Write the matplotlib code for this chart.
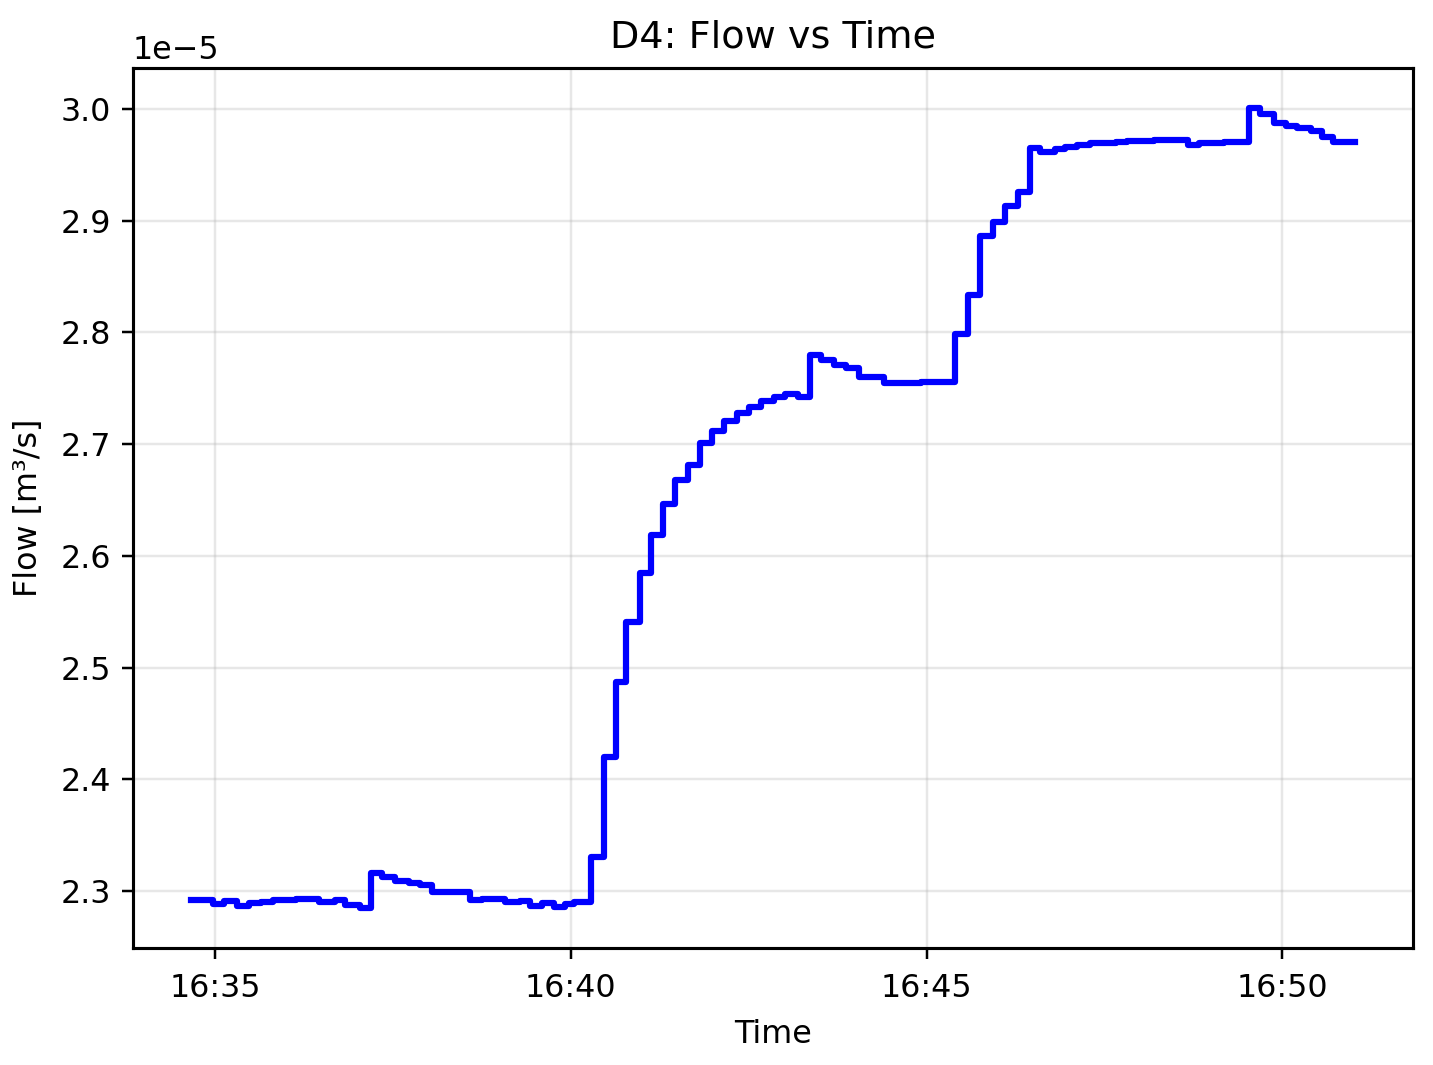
import matplotlib
matplotlib.use("Agg")
import matplotlib.pyplot as plt
import matplotlib.dates as mdates
import pandas as pd
import numpy as np

# step change times (HH:MM:SS) and flow values in units of 1e-5 m^3/s
times = [
    "16:34:40", "16:34:58", "16:35:08", "16:35:19", "16:35:29", "16:35:39",
    "16:35:49", "16:36:08", "16:36:28", "16:36:41", "16:36:50", "16:37:02",
    "16:37:12", "16:37:21", "16:37:32", "16:37:44", "16:37:53", "16:38:03",
    "16:38:35", "16:38:45", "16:39:05", "16:39:17", "16:39:26", "16:39:36",
    "16:39:46", "16:39:55", "16:40:03", "16:40:17", "16:40:28", "16:40:38",
    "16:40:47", "16:40:58", "16:41:08", "16:41:18", "16:41:28", "16:41:39",
    "16:41:49", "16:41:59", "16:42:09", "16:42:20", "16:42:30", "16:42:40",
    "16:42:51", "16:43:01", "16:43:12", "16:43:22", "16:43:31", "16:43:42",
    "16:43:52", "16:44:03", "16:44:24", "16:44:55", "16:45:24", "16:45:35",
    "16:45:45", "16:45:56", "16:46:06", "16:46:17", "16:46:27", "16:46:36",
    "16:46:48", "16:46:57", "16:47:07", "16:47:18", "16:47:40", "16:47:49",
    "16:48:12", "16:48:40", "16:48:50", "16:49:11", "16:49:32", "16:49:41",
    "16:49:53", "16:50:03", "16:50:12", "16:50:24", "16:50:33", "16:50:43",
    "16:51:01",
]
flow = [
    2.2922, 2.2884, 2.2908, 2.2869, 2.2889, 2.2904,
    2.2917, 2.2929, 2.2904, 2.2922, 2.2875, 2.2848,
    2.3161, 2.3122, 2.3092, 2.3071, 2.3054, 2.2994,
    2.2920, 2.2931, 2.2899, 2.2914, 2.2869, 2.2889,
    2.2860, 2.2881, 2.2899, 2.3301, 2.4199, 2.4872,
    2.5404, 2.5845, 2.6188, 2.6464, 2.6679, 2.6813,
    2.7006, 2.7116, 2.7208, 2.7280, 2.7333, 2.7384,
    2.7417, 2.7446, 2.7423, 2.7795, 2.7750, 2.7711,
    2.7681, 2.7602, 2.7545, 2.7552, 2.7988, 2.8337,
    2.8860, 2.8991, 2.9134, 2.9259, 2.9646, 2.9616,
    2.9637, 2.9661, 2.9676, 2.9690, 2.9705, 2.9714,
    2.9723, 2.9679, 2.9694, 2.9705, 3.0006, 2.9958,
    2.9869, 2.9845, 2.9824, 2.9804, 2.9744, 2.9699,
    2.9700,
]
tick_minutes = [35, 40, 45, 50]

t = pd.to_datetime(["2024-01-01 " + s for s in times])
q = np.array(flow) * 1e-5

plt.rcParams['font.size'] = 10.2

fig, ax = plt.subplots(figsize=(1433 / 224, 1065 / 224), dpi=224)
ax.plot(t, q, color="blue", linewidth=2.0, drawstyle="steps-post")

ax.set_title("D4: Flow vs Time", pad=6.6)
ax.set_xlabel("Time", labelpad=5)
ax.set_ylabel("Flow [m³/s]", labelpad=5.5)
ax.xaxis.set_major_locator(mdates.MinuteLocator(byminute=tick_minutes))
ax.xaxis.set_major_formatter(mdates.DateFormatter("%H:%M"))
ax.tick_params(axis='x', pad=4.5)
ax.grid(True, alpha=0.3)
for sp in ax.spines.values():
    sp.set_linewidth(1.0)

fig.subplots_adjust(left=0.0928, right=0.986, top=0.936, bottom=0.1099)
fig.savefig("out.png", dpi=224)
